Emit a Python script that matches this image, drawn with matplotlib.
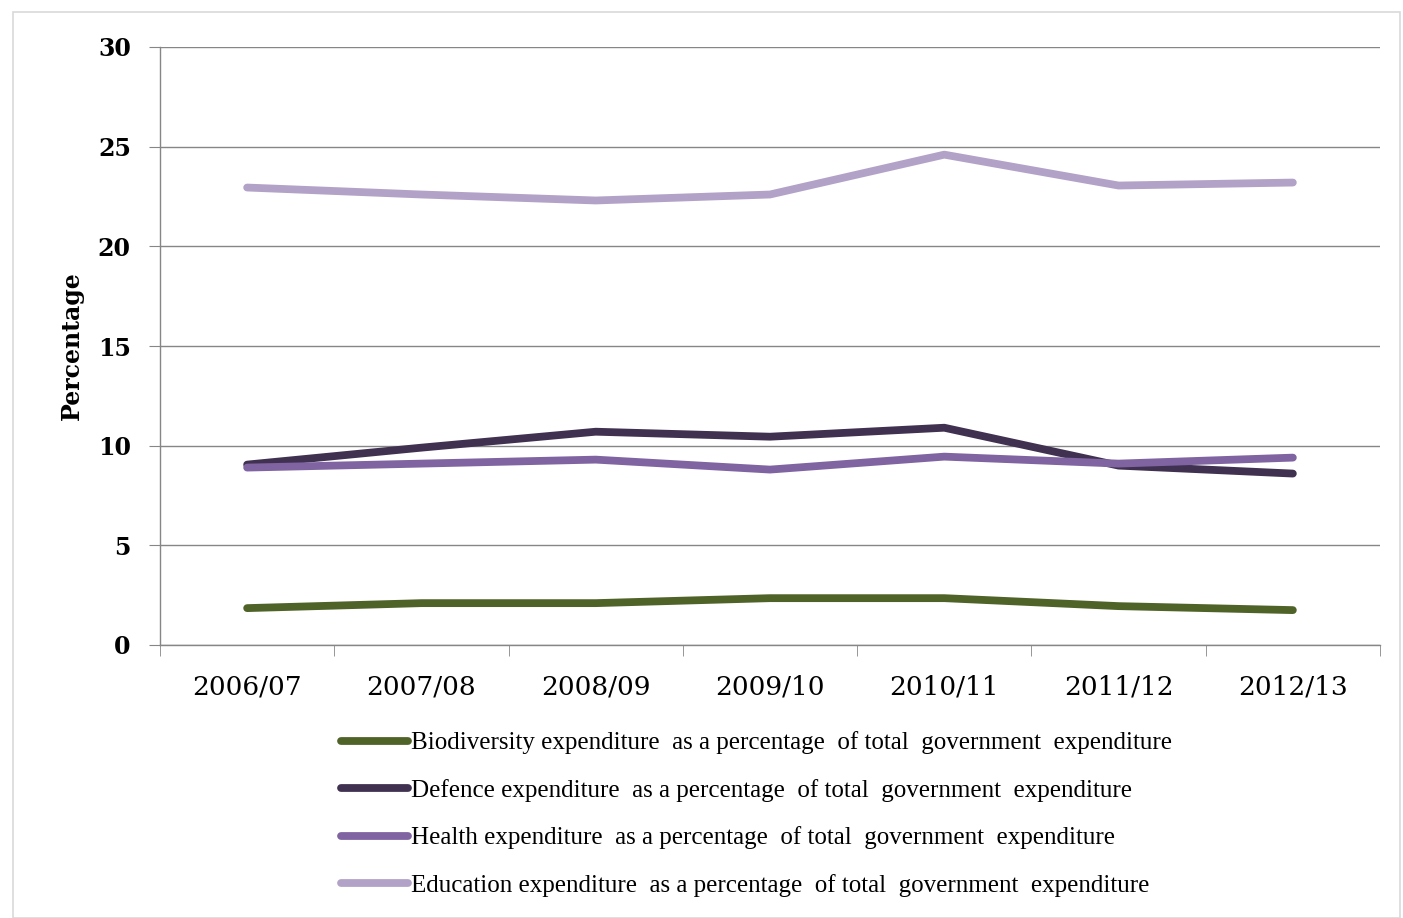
import matplotlib
matplotlib.use("Agg")
import matplotlib.pyplot as plt
from matplotlib.patches import Rectangle
import numpy as np

years = ["2006/07", "2007/08", "2008/09", "2009/10", "2010/11", "2011/12", "2012/13"]
biodiversity = [1.85, 2.1, 2.1, 2.35, 2.35, 1.95, 1.75]
defence = [9.05, 9.9, 10.7, 10.45, 10.9, 9.0, 8.6]
health = [8.9, 9.1, 9.3, 8.8, 9.45, 9.1, 9.4]
education = [22.95, 22.6, 22.3, 22.6, 24.6, 23.05, 23.2]

labels = [
    "Biodiversity expenditure  as a percentage  of total  government  expenditure",
    "Defence expenditure  as a percentage  of total  government  expenditure",
    "Health expenditure  as a percentage  of total  government  expenditure",
    "Education expenditure  as a percentage  of total  government  expenditure",
]
colors = ["#4F6228", "#403151", "#8064A2", "#B3A2C7"]
series = [biodiversity, defence, health, education]

fig = plt.figure(figsize=(14.03, 9.18), dpi=100)
fig.patches.append(Rectangle((13 / 1403, 0), 1 - 16 / 1403, 1 - 12 / 918,
                             transform=fig.transFigure, fill=False,
                             edgecolor="#D9D9D9", linewidth=1.2))
ax = fig.add_axes([160 / 1403, 1 - 645 / 918, (1380 - 160) / 1403, (645 - 47) / 918])

x = np.arange(len(years))
lines = []
for vals, c, lab in zip(series, colors, labels):
    ln, = ax.plot(x, vals, color=c, linewidth=5.6, solid_capstyle="round",
                  solid_joinstyle="round", label=lab, zorder=3)
    lines.append(ln)

ax.set_xlim(-0.5, len(years) - 0.5)
ax.set_ylim(0, 30)
ax.set_yticks(np.arange(0, 31, 5))
ax.yaxis.grid(True, color="#868686", linewidth=1.0)
ax.set_axisbelow(True)
for s in ["top", "right"]:
    ax.spines[s].set_visible(False)
for s in ["left", "bottom"]:
    ax.spines[s].set_color("#868686")
    ax.spines[s].set_linewidth(1.0)

ax.set_xticks(x)
ax.set_xticklabels(years, fontfamily="DejaVu Serif", fontsize=19)
ax.set_xticks(np.arange(-0.5, len(years)), minor=True)
ax.tick_params(axis="x", which="major", length=0, pad=21)
ax.tick_params(axis="x", which="minor", length=8, color="#868686", direction="out")
ax.tick_params(axis="y", length=8, color="#868686", direction="out", pad=13)
for t in ax.get_yticklabels():
    t.set_fontfamily("DejaVu Serif")
    t.set_fontsize(17)
    t.set_fontweight("bold")

ax.set_ylabel("Percentage", fontfamily="DejaVu Serif", fontsize=17,
              fontweight="bold", labelpad=10)

fig.legend(handles=lines, loc="upper left", bbox_to_anchor=(318 / 1403, 1 - 709 / 918),
           frameon=False, handlelength=2.7, handletextpad=0.12, labelspacing=0.98,
           prop={"family": "Liberation Serif", "size": 18})

fig.savefig("out.png", dpi=100)
